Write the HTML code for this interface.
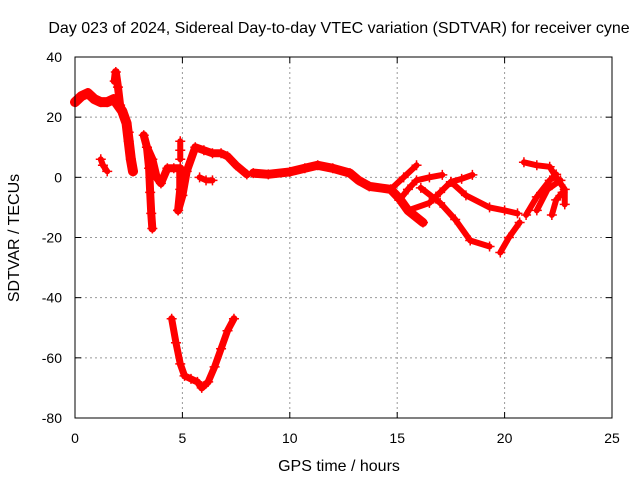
<!DOCTYPE html>
<html><head><meta charset="utf-8"><style>
html,body{margin:0;padding:0;background:#fff}
svg{display:block;font-family:"Liberation Sans",sans-serif;font-size:14px}
</style></head><body>
<svg id="chart" width="640" height="480" viewBox="0 0 640 480">
<text x="339" y="33" text-anchor="middle" font-size="16">Day 023 of 2024, Sidereal Day-to-day VTEC variation (SDTVAR) for receiver cyne</text>
<text x="339" y="471" text-anchor="middle" font-size="16">GPS time / hours</text>
<text transform="translate(19,238) rotate(-90)" text-anchor="middle" font-size="16">SDTVAR / TECUs</text>
<g id="grid"></g><g id="marks"></g>
<rect x="75" y="57" width="537" height="361" fill="none" stroke="#000" stroke-width="1"/>
</svg>
<script>
const xTicks=[0,5,10,15,20,25];
const yTicks=[40,20,0,-20,-40,-60,-80];
const track1=[[0,25],[0.3,27],[0.6,28],[0.9,26],[1.2,25],[1.5,25],[1.8,26],[2.0,24],[2.2,22],[2.4,18],[2.5,12],[2.6,6],[2.7,2]];
const track2=[[1.85,32],[1.9,35],[2.0,30],[2.1,24],[2.3,20],[2.5,15]];
const track3=[[1.2,6],[1.3,4],[1.5,2]];
const track4=[[3.2,14],[3.35,10],[3.45,3],[3.5,-5],[3.55,-12],[3.6,-17]];
const track5=[[3.35,10],[3.6,6],[3.8,0],[4.0,-2],[4.3,3],[4.6,3],[4.9,3],[4.9,-4],[4.8,-11]];
const track6=[[4.8,-11],[5.0,-6],[5.2,2],[5.6,10],[6.0,9],[6.4,8],[6.8,8],[7.1,7],[7.5,4],[8.0,1]];
const track7=[[4.9,12],[4.9,9],[4.9,6]];
const track8=[[5.8,0],[6.1,-1],[6.4,-1]];
const track9=[[4.5,-47],[4.7,-55],[4.9,-62],[5.1,-66],[5.4,-67],[5.7,-68],[5.9,-70],[6.2,-68],[6.5,-63],[6.8,-57],[7.1,-51],[7.4,-47]];
const track10=[[8.3,1.4],[9.0,1],[10,1.8],[10.7,3],[11.3,4],[12.0,3],[12.8,1.4],[13.2,-1],[13.7,-3],[14.7,-4],[15.1,-7],[15.5,-11],[16.2,-15]];
const track11=[[14.7,-4],[15.3,0],[15.9,4]];
const track12=[[15.1,-7.6],[15.5,-4],[15.9,-1],[16.5,0],[17.1,0.8]];
const track13=[[15.5,-11],[16.5,-8.5],[17.0,-5],[17.5,-1.5],[18.0,-0.5],[18.5,0.8]];
const track14=[[16.1,-3.5],[17.0,-8.5],[17.7,-14],[18.4,-21],[19.3,-23]];
const track15=[[17.5,-1.5],[18.2,-6],[19.3,-10],[20.0,-11],[20.6,-12]];
const track16=[[19.8,-25],[20.2,-20],[20.7,-15]];
const track17=[[20.9,5],[21.5,4],[22.1,3.5],[22.4,0],[22.8,-4],[22.8,-9]];
const track18=[[21.0,-12.5],[21.5,-6.5],[22.1,-1],[22.4,1]];
const track19=[[21.5,-11],[22.0,-4],[22.6,-1]];
const track20=[[22.2,-12.5],[22.4,-7.5],[22.7,-5]];
const tracks=[track1,track2,track3,track4,track5,track6,track7,track8,track9,track10,track11,track12,track13,track14,track15,track16,track17,track18,track19,track20];
const widths=[10,8,6,8,8,8,6,6,7,9,6,6,6,6,6,6,6,6,6,6];
const X0=75,X1=612,Y0=418,Y1=57;
const xs=v=>X0+(v-0)/25*(X1-X0);
const ys=v=>Y0-(v+80)/120*(Y0-Y1);
const NS='http://www.w3.org/2000/svg';
const grid=document.getElementById('grid'),marks=document.getElementById('marks');
function mk(t,a,p){const e=document.createElementNS(NS,t);for(const k in a)e.setAttribute(k,a[k]);p.appendChild(e);return e;}
xTicks.forEach(t=>{const x=xs(t);
 if(t>0&&t<25){const g=mk('line',{x1:x,x2:x,y1:Y1,y2:Y0,stroke:'#999','stroke-dasharray':'2,3'},grid);
 
 }
 mk('line',{x1:x,x2:x,y1:Y0,y2:Y0-6,stroke:'#000'},grid);
 mk('line',{x1:x,x2:x,y1:Y1,y2:Y1+6,stroke:'#000'},grid);
 const l=mk('text',{x:x,y:443,'text-anchor':'middle'},grid);l.textContent=t;
 
 });
yTicks.forEach(t=>{const y=ys(t);
 if(t>-80&&t<40){const g=mk('line',{x1:X0,x2:X1,y1:y,y2:y,stroke:'#999','stroke-dasharray':'2,3'},grid);
 
 }
 mk('line',{x1:X0,x2:X0+6,y1:y,y2:y,stroke:'#000'},grid);
 mk('line',{x1:X1,x2:X1-6,y1:y,y2:y,stroke:'#000'},grid);
 const l=mk('text',{x:62,y:y+5,'text-anchor':'end'},grid);l.textContent=t;
 
 });
tracks.forEach((tr,i)=>{
 const pl=mk('polyline',{points:tr.map(p=>xs(p[0])+','+ys(p[1])).join(' '),fill:'none',stroke:'#f00','stroke-width':widths[i],'stroke-linejoin':'round','stroke-linecap':'round'},marks);
 
 
 tr.forEach(p=>{const x=xs(p[0]),y=ys(p[1]);
  const m=mk('path',{d:`M${x-5},${y}H${x+5}M${x},${y-5}V${y+5}`,stroke:'#f00','stroke-width':1.5},marks);
  
  });
});
</script>
</body></html>
